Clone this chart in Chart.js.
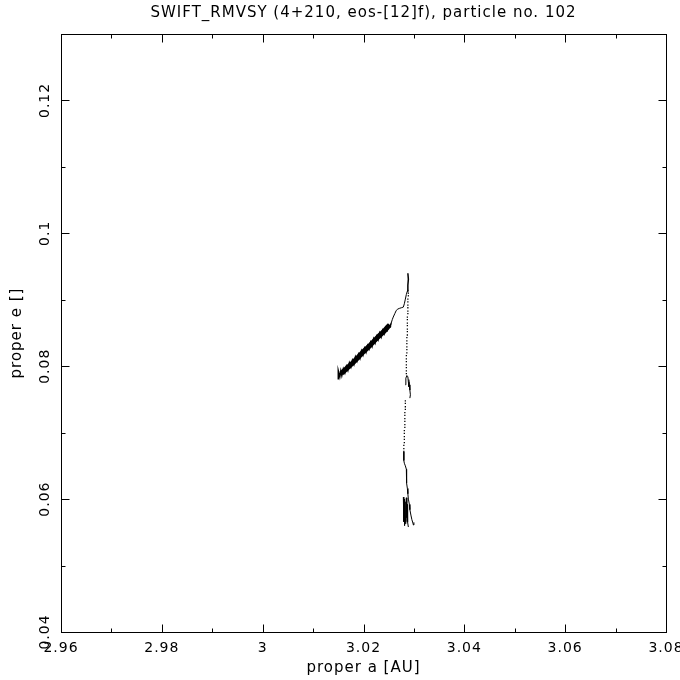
<!DOCTYPE html>
<html><head><meta charset="utf-8">
<script src="https://cdn.jsdelivr.net/npm/chart.js@4"></script>
<style>html,body{margin:0;padding:0;background:#fff}#wrap{width:680px;height:680px}</style>
</head><body><div id="wrap"><canvas id="c" width="680" height="680"></canvas></div>
<script>
const titleText = "SWIFT_RMVSY (4+210, eos-[12]f), particle no. 102";
const xTitle = "proper a [AU]";
const yTitle = "proper e []";
const xMajorTicks = [2.96, 2.98, 3.00, 3.02, 3.04, 3.06, 3.08];
const xTickLabels = ["2.96", "2.98", "3", "3.02", "3.04", "3.06", "3.08"];
const xMinorTicks = [2.97, 2.99, 3.01, 3.03, 3.05, 3.07];
const yMajorTicks = [0.04, 0.06, 0.08, 0.10, 0.12];
const yTickLabels = ["0.04", "0.06", "0.08", "0.1", "0.12"];
const yMinorTicks = [0.05, 0.07, 0.09, 0.11];

// thick band (zig-zag between upper and lower edges)
const bandA = [3.0150,3.0150,3.0153,3.0155,3.0157,3.0160,3.0163,3.0166,3.0169,3.0172,3.0175,3.0178,3.0181,3.0184,3.0187,3.0190,3.0193,3.0196,3.0199,3.0202,3.0205,3.0208,3.0211,3.0214,3.0217,3.0220,3.0223,3.0226,3.0229,3.0232,3.0235,3.0238,3.0241,3.0244,3.0247,3.0250,3.0253,3.0255];
const bandE = [0.0780,0.0793,0.0784,0.0793,0.0786,0.0796,0.0790,0.0800,0.0794,0.0805,0.0799,0.0809,0.0803,0.0814,0.0808,0.0818,0.0812,0.0823,0.0817,0.0827,0.0821,0.0831,0.0826,0.0836,0.0830,0.0841,0.0835,0.0845,0.0840,0.0850,0.0844,0.0854,0.0849,0.0858,0.0854,0.0862,0.0860,0.0865];
// band core
const bandCoreA = [3.0156,3.0160,3.0170,3.0180,3.0190,3.0200,3.0210,3.0220,3.0230,3.0240,3.0248,3.0252];
const bandCoreE = [0.0789,0.0792,0.0799,0.0806,0.0814,0.0822,0.0829,0.0837,0.0845,0.0852,0.0859,0.0862];
// thin curve up to the peak
const curveA = [3.0255,3.0257,3.0259,3.0262,3.0265,3.0268,3.0271,3.0275,3.0279,3.0281,3.0283,3.0285,3.0287,3.0288];
const curveE = [0.0865,0.0870,0.0874,0.0879,0.0884,0.0886,0.0887,0.0888,0.0889,0.0894,0.0901,0.0908,0.0913,0.0915];
const spikeA = [3.0288,3.0288,3.0289,3.0288];
const spikeE = [0.0912,0.0922,0.0931,0.0940];
// dotted descent 1
const dots1A = [3.0289,3.0289,3.0288,3.0288,3.0288,3.0288,3.0288,3.0288,3.0287,3.0287,3.0287,3.0287,3.0287,3.0287,3.0287,3.0286,3.0286,3.0286,3.0286,3.0286,3.0286,3.0285,3.0285,3.0285,3.0285,3.0285,3.0285,3.0285];
const dots1E = [0.0910,0.0906,0.0901,0.0897,0.0892,0.0888,0.0883,0.0879,0.0874,0.0870,0.0865,0.0861,0.0856,0.0852,0.0847,0.0843,0.0838,0.0834,0.0829,0.0825,0.0820,0.0816,0.0811,0.0807,0.0802,0.0798,0.0793,0.0789];
// small cluster near e = 0.078
const clusterAA = [3.0283,3.0284,3.0286,3.0288,3.0289,3.0290];
const clusterAE = [0.0772,0.0782,0.0786,0.0784,0.0776,0.0769];
const clusterBA = [3.0290,3.0291,3.0292,3.0293,3.0292];
const clusterBE = [0.0780,0.0772,0.0764,0.0757,0.0752];
// dotted descent 2
const dots2A = [3.0283,3.0283,3.0283,3.0283,3.0282,3.0282,3.0282,3.0282,3.0282,3.0282,3.0281,3.0281,3.0281,3.0281,3.0281,3.0280,3.0280,3.0280];
const dots2E = [0.0748,0.0744,0.0739,0.0735,0.0730,0.0726,0.0721,0.0717,0.0712,0.0708,0.0703,0.0699,0.0694,0.0690,0.0685,0.0681,0.0676,0.0672];
// lower part
const lowerMainA = [3.0280,3.0280,3.0281,3.0283,3.0285,3.0285,3.0286,3.0287,3.0288,3.0289,3.0291,3.0292,3.0294,3.0296,3.0298,3.0299,3.0300];
const lowerMainE = [0.0671,0.0658,0.0654,0.0650,0.0645,0.0632,0.0624,0.0616,0.0608,0.0600,0.0592,0.0584,0.0576,0.0569,0.0564,0.0561,0.0565];
const lowerLeftA = [3.0279,3.0280,3.0281,3.0281,3.0282,3.0283,3.0284,3.0284,3.0285,3.0286];
const lowerLeftE = [0.0603,0.0566,0.0600,0.0560,0.0598,0.0563,0.0596,0.0566,0.0602,0.0572];
const lowerSpikeA = [3.0287,3.0287,3.0288,3.0289];
const lowerSpikeE = [0.0592,0.0575,0.0565,0.0558];

const pts = (A, E) => A.map((a, i) => ({x: a, y: E[i]}));
const lineDs = (A, E, w) => ({data: pts(A, E), showLine: true, borderColor: '#000', borderWidth: w, pointRadius: 0, tension: 0, fill: false});
const dotDs = (A, E) => ({data: pts(A, E), showLine: false, pointStyle: 'rect', pointRadius: 0.9, backgroundColor: '#000', borderWidth: 0});

const FONT = "'DejaVu Sans', 'Liberation Sans', sans-serif";

const framePlugin = {
  id: 'frame',
  afterDraw(chart) {
    const ctx = chart.ctx, ca = chart.chartArea;
    const xs = chart.scales.x, ys = chart.scales.y;
    ctx.save();
    ctx.strokeStyle = '#000';
    ctx.lineWidth = 1;
    const L = Math.round(ca.left) + 0.5, R = Math.round(ca.right) + 0.5;
    const T = Math.round(ca.top) + 0.5, B = Math.round(ca.bottom) + 0.5;
    ctx.strokeRect(L, T, R - L, B - T);
    ctx.beginPath();
    const xt = (v, len) => { const p = Math.round(xs.getPixelForValue(v)) + 0.5; ctx.moveTo(p, B); ctx.lineTo(p, B - len); ctx.moveTo(p, T); ctx.lineTo(p, T + len); };
    const yt = (v, len) => { const p = Math.round(ys.getPixelForValue(v)) + 0.5; ctx.moveTo(L, p); ctx.lineTo(L + len, p); ctx.moveTo(R, p); ctx.lineTo(R - len, p); };
    xMajorTicks.forEach(v => xt(v, 8)); xMinorTicks.forEach(v => xt(v, 4));
    yMajorTicks.forEach(v => yt(v, 8)); yMinorTicks.forEach(v => yt(v, 4));
    ctx.stroke();

    ctx.fillStyle = '#000';
    ctx.letterSpacing = '1px';
    ctx.font = '14px ' + FONT;
    ctx.textAlign = 'center'; ctx.textBaseline = 'middle';
    xMajorTicks.forEach((v, i) => ctx.fillText(xTickLabels[i], xs.getPixelForValue(v), 648));
    yMajorTicks.forEach((v, i) => {
      ctx.save(); ctx.translate(45, ys.getPixelForValue(v)); ctx.rotate(-Math.PI / 2);
      ctx.fillText(yTickLabels[i], 0, 0); ctx.restore();
    });
    ctx.font = '15px ' + FONT;
    ctx.fillText(xTitle, (ca.left + ca.right) / 2, 668);
    ctx.save(); ctx.translate(17, (ca.top + ca.bottom) / 2); ctx.rotate(-Math.PI / 2);
    ctx.fillText(yTitle, 0, 0); ctx.restore();
    ctx.fillText(titleText, (ca.left + ca.right) / 2, 13);
    ctx.restore();
  }
};

new Chart(document.getElementById('c'), {
  type: 'scatter',
  data: {
    datasets: [
      lineDs(bandA, bandE, 1.5),
      lineDs(bandCoreA, bandCoreE, 5),
      lineDs(curveA, curveE, 1),
      lineDs(spikeA, spikeE, 1.5),
      dotDs(dots1A, dots1E),
      lineDs(clusterAA, clusterAE, 1),
      lineDs(clusterBA, clusterBE, 1),
      dotDs(dots2A, dots2E),
      lineDs(lowerMainA, lowerMainE, 1),
      lineDs(lowerLeftA, lowerLeftE, 1),
      lineDs(lowerSpikeA, lowerSpikeE, 1)
    ]
  },
  options: {
    responsive: false,
    animation: false,
    layout: {padding: {left: 61, right: 14, top: 34, bottom: 48}},
    plugins: {legend: {display: false}, tooltip: {enabled: false}, title: {display: false}},
    scales: {
      x: {type: 'linear', min: 2.96, max: 3.08, display: false},
      y: {type: 'linear', min: 0.04, max: 0.13, display: false}
    }
  },
  plugins: [framePlugin]
});
</script>
</body></html>
